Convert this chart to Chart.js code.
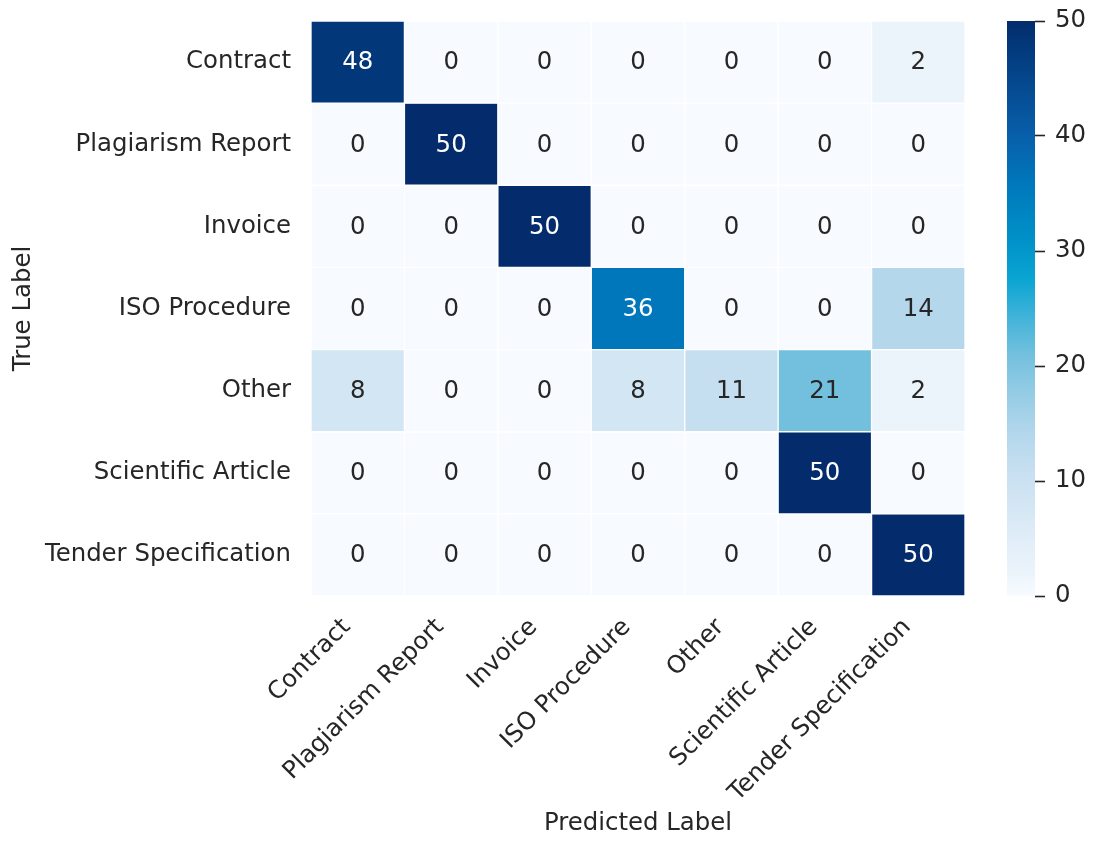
<!DOCTYPE html>
<html>
<head>
<meta charset="utf-8">
<script src="https://cdn.jsdelivr.net/npm/chart.js@4.4.1/dist/chart.umd.min.js"></script>
<style>
  html, body { margin: 0; padding: 0; background: #ffffff; }
  #wrap { position: relative; width: 1095px; height: 843px; }
  #wrap canvas { position: absolute; left: 0; top: 0; }
</style>
</head>
<body>
<div id="wrap">
  <canvas id="heat" width="1095" height="843"></canvas>
  <canvas id="cbar" width="1095" height="843"></canvas>
</div>
<script>
// ---------- data ----------
const predictedLabels = ['Contract', 'Plagiarism Report', 'Invoice', 'ISO Procedure', 'Other', 'Scientific Article', 'Tender Specification'];
const trueLabels      = ['Contract', 'Plagiarism Report', 'Invoice', 'ISO Procedure', 'Other', 'Scientific Article', 'Tender Specification'];

const rowContract    = [48, 0, 0, 0, 0, 0, 2];
const rowPlagiarism  = [0, 50, 0, 0, 0, 0, 0];
const rowInvoice     = [0, 0, 50, 0, 0, 0, 0];
const rowISO         = [0, 0, 0, 36, 0, 0, 14];
const rowOther       = [8, 0, 0, 8, 11, 21, 2];
const rowScientific  = [0, 0, 0, 0, 0, 50, 0];
const rowTender      = [0, 0, 0, 0, 0, 0, 50];

const colorbarTicks = [0, 10, 20, 30, 40, 50];
const vmin = 0, vmax = 50;

const matrix = [rowContract, rowPlagiarism, rowInvoice, rowISO, rowOther, rowScientific, rowTender];

// ---------- colour map (style) ----------
const CMAP = [
  [0.00, [247, 251, 255]],
  [0.04, [236, 244, 251]],
  [0.10, [224, 237, 248]],
  [0.16, [211, 230, 244]],
  [0.22, [198, 223, 240]],
  [0.28, [180, 215, 236]],
  [0.36, [145, 203, 228]],
  [0.42, [115, 192, 222]],
  [0.48, [70, 180, 218]],
  [0.55, [10, 165, 210]],
  [0.62, [0, 145, 200]],
  [0.72, [0, 119, 187]],
  [0.80, [8, 95, 170]],
  [0.90, [5, 70, 140]],
  [0.96, [2, 56, 122]],
  [1.00, [4, 44, 108]]
];
function cmapRGB(t) {
  t = Math.max(0, Math.min(1, t));
  for (let i = 1; i < CMAP.length; i++) {
    if (t <= CMAP[i][0]) {
      const [t0, c0] = CMAP[i - 1], [t1, c1] = CMAP[i];
      const f = (t - t0) / (t1 - t0);
      return c0.map((c, k) => Math.round(c + (c1[k] - c) * f));
    }
  }
  return CMAP[CMAP.length - 1][1];
}
const rgbStr = c => `rgb(${c[0]},${c[1]},${c[2]})`;
function colorFor(v) { return rgbStr(cmapRGB((v - vmin) / (vmax - vmin))); }
function textColorFor(v) {
  const c = cmapRGB((v - vmin) / (vmax - vmin)).map(x => {
    x /= 255; return x <= 0.03928 ? x / 12.92 : Math.pow((x + 0.055) / 1.055, 2.4);
  });
  const lum = 0.2126 * c[0] + 0.7152 * c[1] + 0.0722 * c[2];
  return lum > 0.408 ? '#262626' : '#ffffff';
}

// ---------- defaults ----------
const FONT = 'DejaVu Sans';
const FS = 24.4;
const INK = '#262626';
Chart.defaults.font.family = FONT;
Chart.defaults.font.size = FS;
Chart.defaults.color = INK;

function zeroPad(s) { s.paddingTop = 0; s.paddingBottom = 0; s.paddingLeft = 0; s.paddingRight = 0; }

// ---------- heatmap ----------
const datasets = matrix.map((row, r) => ({
  label: trueLabels[r],
  values: row,
  data: row.map(() => [r, r + 1]),
  backgroundColor: row.map(colorFor),
  borderColor: '#ffffff',
  borderWidth: 1,
  borderSkipped: false,
  barPercentage: 1,
  categoryPercentage: 1,
  grouped: false
}));

const annotatePlugin = {
  id: 'annotate',
  afterDatasetsDraw(chart) {
    const ctx = chart.ctx;
    ctx.save();
    ctx.font = `${FS}px "${FONT}"`;
    ctx.textAlign = 'center';
    ctx.textBaseline = 'middle';
    chart.data.datasets.forEach((ds, di) => {
      const meta = chart.getDatasetMeta(di);
      meta.data.forEach((el, i) => {
        const v = ds.values[i];
        ctx.fillStyle = textColorFor(v);
        ctx.fillText(String(v), el.x, (el.y + el.base) / 2 + 1);
      });
    });
    ctx.restore();
  }
};

new Chart(document.getElementById('heat'), {
  type: 'bar',
  data: { labels: predictedLabels, datasets },
  options: {
    responsive: false,
    animation: false,
    devicePixelRatio: 1,
    layout: { padding: { top: 21, right: 130, left: 0, bottom: 0 } },
    plugins: { legend: { display: false }, tooltip: { enabled: false } },
    scales: {
      x: {
        type: 'category',
        offset: true,
        grid: { display: false, drawTicks: false },
        border: { display: false },
        ticks: {
          autoSkip: false, minRotation: 45, maxRotation: 45,
          padding: 17, labelOffset: -11, color: INK, font: { size: FS }
        },
        title: {
          display: true, text: 'Predicted Label', color: INK,
          font: { size: FS }, padding: { top: 0, bottom: 5 }
        },
        afterFit(s) { s.height = 247; zeroPad(s); }
      },
      y: {
        type: 'linear',
        min: 0, max: 7, reverse: true,
        grid: { display: false, drawTicks: false },
        border: { display: false },
        afterBuildTicks(s) { s.ticks = trueLabels.map((_, i) => ({ value: i + 0.5 })); },
        ticks: {
          autoSkip: false, padding: 20, color: INK, font: { size: FS },
          callback: v => trueLabels[Math.floor(v)]
        },
        title: {
          display: true, text: 'True Label', color: INK,
          font: { size: FS }, padding: { top: 9, bottom: 0 }
        },
        afterFit(s) { s.width = 311; zeroPad(s); }
      }
    }
  },
  plugins: [annotatePlugin]
});

// ---------- colour bar ----------
function barGradient(context) {
  const chart = context.chart;
  if (!chart.chartArea) return null;
  const ys = chart.scales.y;
  const g = chart.ctx.createLinearGradient(0, ys.getPixelForValue(vmin), 0, ys.getPixelForValue(vmax));
  CMAP.forEach(([t, c]) => g.addColorStop(t, rgbStr(c)));
  return g;
}

new Chart(document.getElementById('cbar'), {
  type: 'bar',
  data: {
    labels: ['scale'],
    datasets: [{
      data: [[vmin, vmax]],
      backgroundColor: barGradient,
      borderWidth: 0,
      barPercentage: 1,
      categoryPercentage: 1
    }]
  },
  options: {
    responsive: false,
    animation: false,
    devicePixelRatio: 1,
    layout: { padding: { top: 21, left: 1007, right: 0, bottom: 247 } },
    plugins: { legend: { display: false }, tooltip: { enabled: false } },
    scales: {
      x: { display: false, offset: true },
      y: {
        position: 'right',
        min: vmin, max: vmax,
        afterBuildTicks(s) { s.ticks = colorbarTicks.map(v => ({ value: v })); },
        grid: { drawOnChartArea: false, drawTicks: true, tickLength: 10, tickColor: INK, tickWidth: 1.6 },
        border: { display: false },
        ticks: { padding: 10, color: INK, font: { size: FS } },
        afterFit(s) { s.width = 60; zeroPad(s); }
      }
    }
  }
});
</script>
</body>
</html>
